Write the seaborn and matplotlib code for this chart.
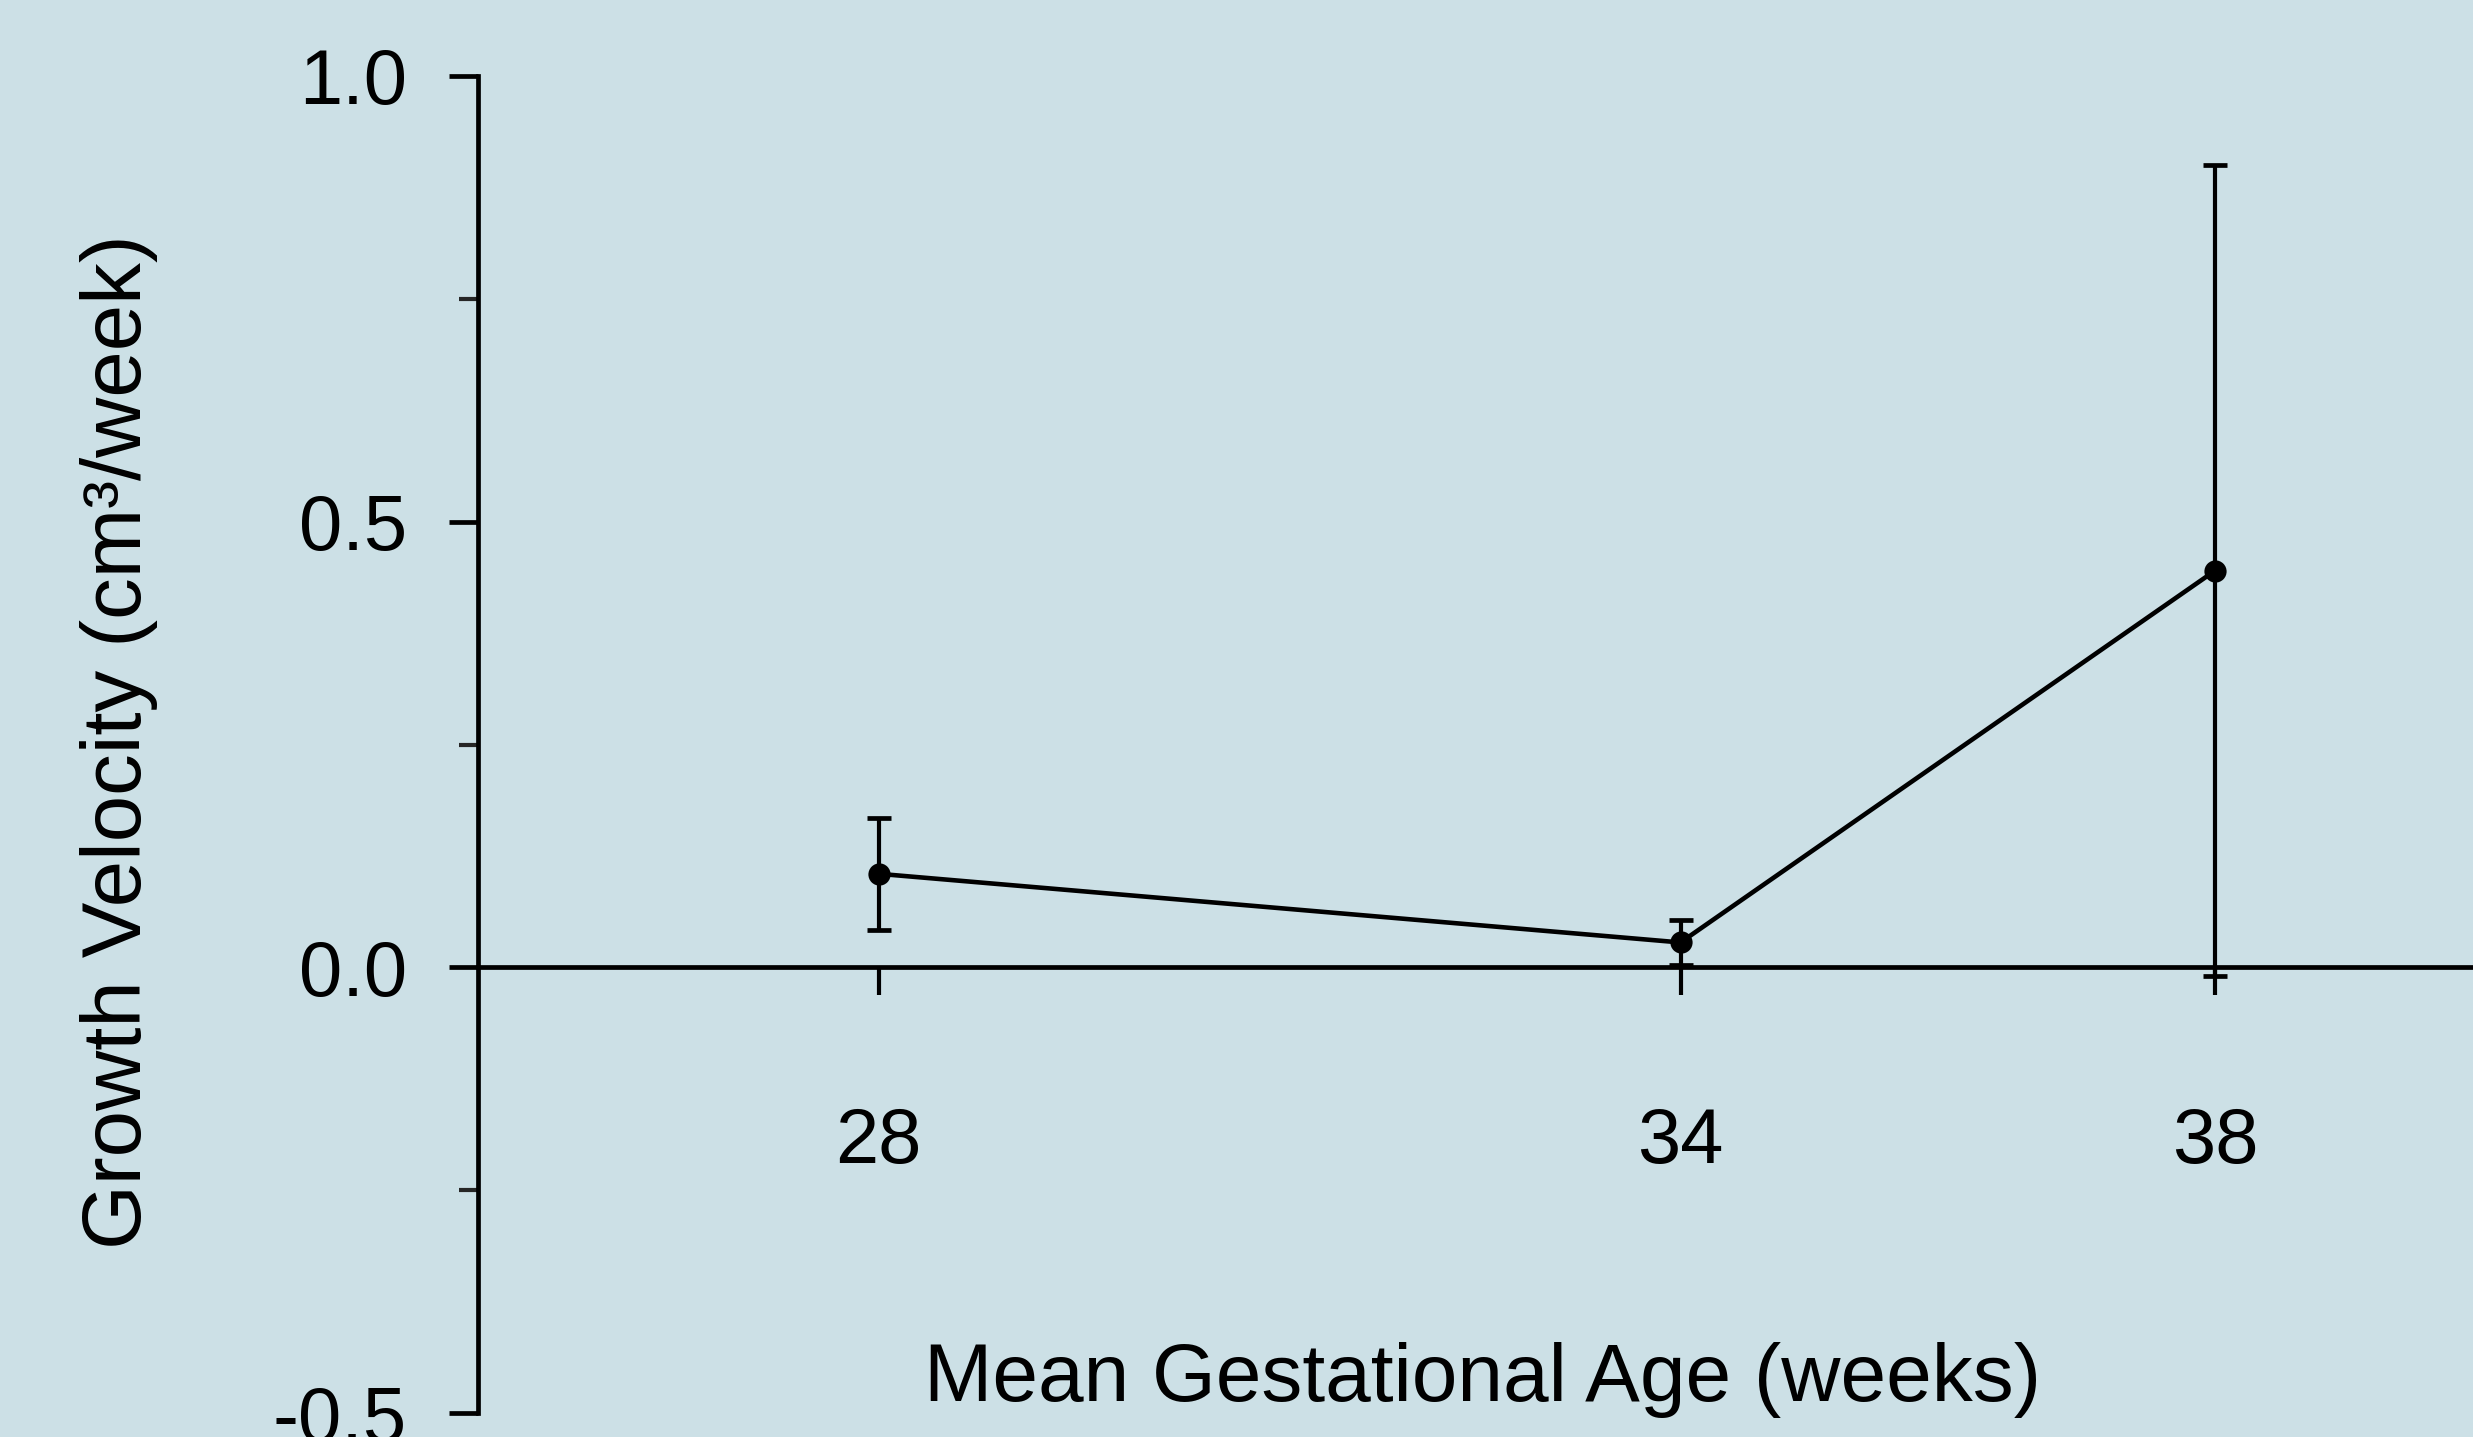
import matplotlib
matplotlib.use("Agg")
import matplotlib.pyplot as plt
from matplotlib.ticker import MultipleLocator
import pandas as pd
import seaborn as sns

weeks = [28, 34, 38]
velocity = [0.105, 0.028, 0.445]
velocity_err = [0.063, 0.025, 0.455]
x_ticks = [28, 34, 38]
y_ticks = [-0.5, 0.0, 0.5, 1.0]

bg = '#cce0e6'

sns.set_theme(style="ticks")
plt.rcParams['font.family'] = ['Liberation Sans', 'DejaVu Sans']
plt.rcParams['text.color'] = 'black'
plt.rcParams['axes.labelcolor'] = 'black'

df = pd.DataFrame({'week': weeks, 'value': velocity, 'err': velocity_err})

fig = plt.figure(figsize=(24.73, 14.37), dpi=100, facecolor=bg)
ax = fig.add_axes([0.1932, 0.0165, 0.8068, 0.9308])
ax.set_facecolor(bg)

# Линия со средними значениями
sns.lineplot(x='week', y='value', data=df, ax=ax, color='black', linewidth=3.3,
             marker='o', markersize=16, markeredgewidth=0, zorder=3)
# Планки погрешностей
ax.errorbar(df['week'], df['value'], yerr=df['err'], fmt='none', ecolor='black',
            elinewidth=3.0, capsize=8.6, capthick=3.4, zorder=3)

ax.set_xlim(25, 39.93)
ax.set_ylim(-0.5, 1.0)

# Оси
ax.spines['right'].set_visible(False)
ax.spines['top'].set_visible(False)
ax.spines['bottom'].set_position(('data', 0))
for s in ['left', 'bottom']:
    ax.spines[s].set_linewidth(3.4)
    ax.spines[s].set_color('black')

ax.set_xticks(x_ticks)
ax.set_xticklabels([str(w) for w in x_ticks])
ax.set_yticks(y_ticks)
ax.set_yticklabels([f'{v:.1f}' for v in y_ticks])
ax.yaxis.set_minor_locator(MultipleLocator(0.25))

ax.tick_params(axis='x', direction='out', length=20, width=3.0, pad=80,
               labelsize=56, colors='black')
ax.tick_params(axis='y', which='major', direction='out', length=21, width=3.4,
               pad=30, labelsize=56, colors='black')
ax.tick_params(axis='y', which='minor', direction='out', length=14, width=3.0)

ax.set_xlabel('Mean Gestational Age (weeks)', fontsize=59, va='center')
ax.xaxis.set_label_coords(0.5995, 0.0395, transform=fig.transFigure)
ax.set_ylabel('Growth Velocity (cm³/week)', fontsize=60, va='center')
ax.yaxis.set_label_coords(0.048, 0.484, transform=fig.transFigure)

fig.savefig('out.png', dpi=100, facecolor=bg)
